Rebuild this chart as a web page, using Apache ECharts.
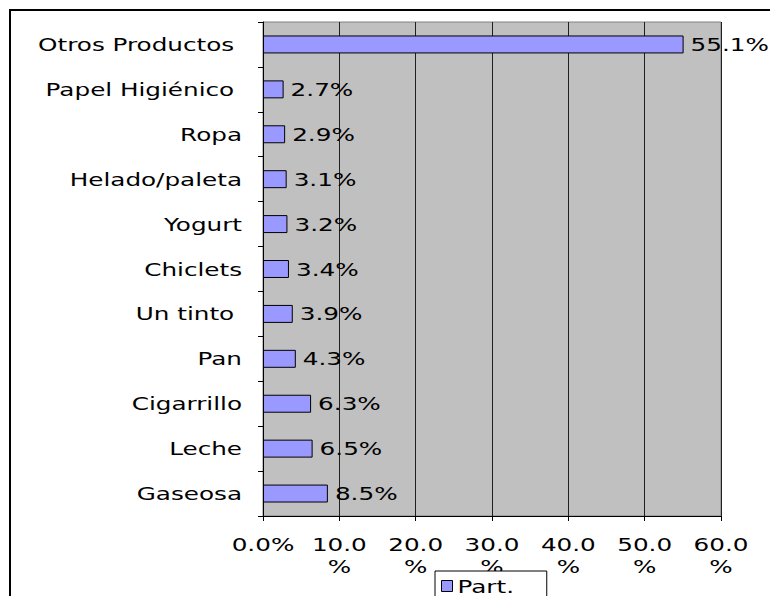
<!DOCTYPE html>
<html>
<head>
    <meta charset="utf-8">
    <title>Part.</title>
    <script src="https://cdn.jsdelivr.net/npm/echarts@6.0.0/dist/echarts.min.js"></script>
</head>
<body style="margin:0;background:#fff">
    <div id="main" style="width:770px;height:596px;"></div>
    <script type="text/javascript">
        // categories from bottom to top (echarts draws the first one at the bottom)
        var productos = ['Gaseosa', 'Leche', 'Cigarrillo', 'Pan', 'Un tinto ', 'Chiclets', 'Yogurt',
            'Helado/paleta', 'Ropa', 'Papel Higiénico ', 'Otros Productos '];
        var part = [8.5, 6.5, 6.3, 4.3, 3.9, 3.4, 3.2, 3.1, 2.9, 2.7, 55.1];
        var xTicks = [0, 10, 20, 30, 40, 50, 60];

        var font = 'DejaVu Sans, Liberation Sans, Arial, sans-serif';
        var myChart = echarts.init(document.getElementById('main'), null, { renderer: 'svg' });

        // the original text is drawn stretched wide, so widen the svg text glyphs
        function widenText() {
            document.querySelectorAll('#main text').forEach(function (t) {
                if (t.getAttribute('textLength')) return;
                var w = t.getComputedTextLength();
                if (w > 0) {
                    t.setAttribute('textLength', (w * 1.37).toFixed(1));
                    t.setAttribute('lengthAdjust', 'spacingAndGlyphs');
                }
            });
        }
        myChart.on('finished', widenText);

        var option = {
            animation: false,
            textStyle: { fontFamily: font },
            graphic: [{
                type: 'rect',
                shape: { x: 10, y: 10, width: 800, height: 700 },
                style: { fill: 'none', stroke: '#000', lineWidth: 2 },
                z: 100
            }],
            legend: {
                left: 435,
                top: 571,
                data: ['Part.'],
                itemWidth: 11,
                itemHeight: 11,
                padding: [6, 48, 12, 6],
                backgroundColor: '#fff',
                borderColor: '#000',
                borderWidth: 1,
                borderRadius: 0,
                icon: 'rect',
                itemStyle: { borderColor: '#000', borderWidth: 1 },
                textStyle: { fontSize: 18, color: '#000', fontFamily: font }
            },
            grid: {
                left: 263,
                top: 22,
                right: 49,
                bottom: 80,
                show: true,
                backgroundColor: '#C0C0C0',
                borderColor: '#808080',
                borderWidth: 1
            },
            xAxis: {
                type: 'value',
                min: xTicks[0],
                max: xTicks[xTicks.length - 1],
                interval: 10,
                axisLine: { show: true, lineStyle: { color: '#000', width: 1 } },
                axisTick: { show: true, inside: false, length: 5, lineStyle: { color: '#000' } },
                splitLine: { show: true, lineStyle: { color: '#202020', width: 1 } },
                axisLabel: {
                    color: '#000',
                    fontSize: 18,
                    margin: 17,
                    lineHeight: 22,
                    fontFamily: font,
                    formatter: function (v) {
                        return v === 0 ? '0.0%' : v.toFixed(1) + '\n%';
                    }
                }
            },
            yAxis: {
                type: 'category',
                data: productos,
                axisLine: { show: true, lineStyle: { color: '#000', width: 1 } },
                axisTick: { show: true, inside: false, length: 5, lineStyle: { color: '#000' } },
                splitLine: { show: false },
                axisLabel: {
                    color: '#000',
                    fontSize: 18,
                    margin: 21,
                    fontFamily: font
                }
            },
            series: [{
                name: 'Part.',
                type: 'bar',
                data: part,
                barWidth: '40%',
                itemStyle: { color: '#9999FF', borderColor: '#000', borderWidth: 1 },
                label: {
                    show: true,
                    position: 'right',
                    distance: 7,
                    color: '#000',
                    fontSize: 18,
                    fontFamily: font,
                    formatter: function (p) { return p.value.toFixed(1) + '%'; }
                }
            }]
        };
        myChart.setOption(option);
        widenText();
    </script>
</body>
</html>
